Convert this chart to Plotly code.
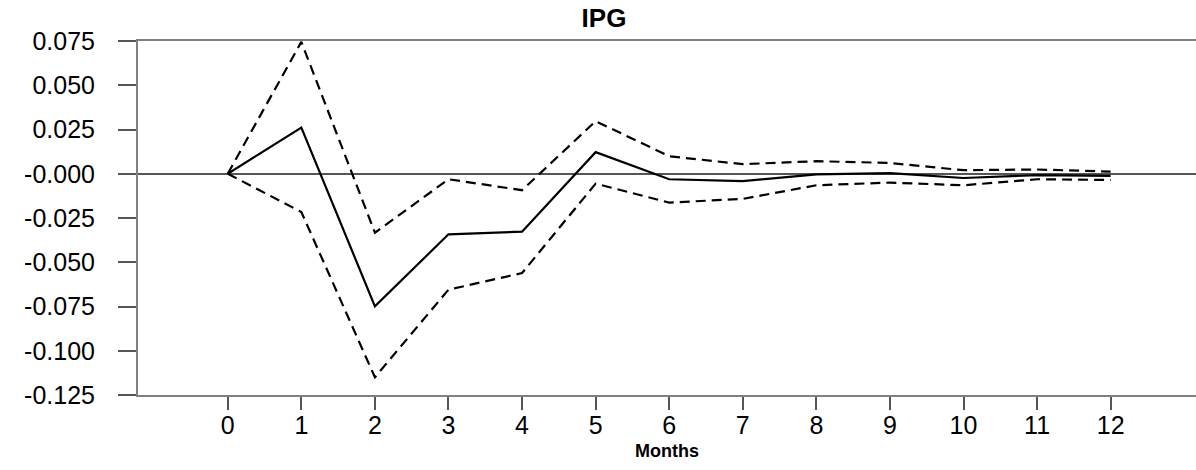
import plotly.graph_objects as go

months = [0, 1, 2, 3, 4, 5, 6, 7, 8, 9, 10, 11, 12]
irf = [0.0, 0.0261, -0.0749, -0.0342, -0.0327, 0.0122, -0.0031, -0.0042, -0.0003, 0.0004, -0.0024, -0.0008, -0.0012]
upper = [0.0, 0.0745, -0.0333, -0.0031, -0.0093, 0.0297, 0.0099, 0.0054, 0.0071, 0.0061, 0.0020, 0.0024, 0.0012]
lower = [0.0, -0.0216, -0.1150, -0.0655, -0.0561, -0.0056, -0.0163, -0.0142, -0.0065, -0.0050, -0.0065, -0.0031, -0.0035]

y_tickvals = [0.075, 0.05, 0.025, 0.0, -0.025, -0.05, -0.075, -0.1, -0.125]
y_ticktext = ["0.075", "0.050", "0.025", "-0.000", "-0.025", "-0.050", "-0.075", "-0.100", "-0.125"]
x_tickvals = months
x_ticktext = [str(m) for m in months]

fig = go.Figure()
fig.add_trace(go.Scatter(x=months, y=upper, mode="lines",
                         line=dict(color="black", width=2.2, dash="10px,6px"), showlegend=False))
fig.add_trace(go.Scatter(x=months, y=lower, mode="lines",
                         line=dict(color="black", width=2.2, dash="10px,6px"), showlegend=False))
fig.add_trace(go.Scatter(x=months, y=irf, mode="lines",
                         line=dict(color="black", width=2.2), showlegend=False))

fig.update_layout(
    width=1196, height=470,
    margin=dict(l=138, r=0, t=41, b=75),
    paper_bgcolor="white", plot_bgcolor="white",
    font=dict(family="Liberation Sans, Arial, sans-serif", color="black"),
    title=dict(text="<b>IPG</b>", x=604/1196, xanchor="center", y=1 - 18/470, yanchor="middle",
               font=dict(size=26, color="black")),
)
fig.update_xaxes(
    range=[-1.22, 13.16], tickmode="array", tickvals=x_tickvals, ticktext=x_ticktext,
    ticks="outside", ticklen=13, tickwidth=1.5, tickcolor="#555",
    showline=True, linecolor="#808080", linewidth=2, mirror=True,
    showgrid=False, zeroline=False,
    tickfont=dict(size=25, color="black"), ticklabelstandoff=-6,
    title=dict(text="<b>Months</b>", font=dict(size=18, color="black"), standoff=6),
)
fig.update_yaxes(
    range=[-0.125, 0.075], tickmode="array", tickvals=y_tickvals, ticktext=y_ticktext,
    ticks="outside", ticklen=18, tickwidth=1.5, tickcolor="#555",
    showline=True, linecolor="#808080", linewidth=2, mirror=False,
    showgrid=False, zeroline=True, zerolinecolor="#555", zerolinewidth=1.5,
    tickfont=dict(size=25, color="black"), ticklabelstandoff=18,
)

fig.write_html("out.html")
